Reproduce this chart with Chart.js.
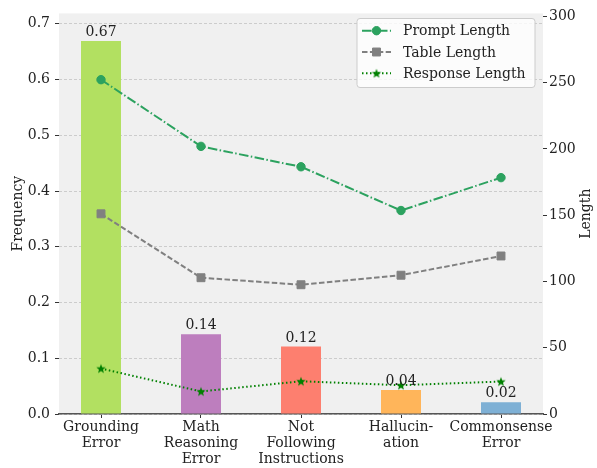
<!DOCTYPE html>
<html lang="en">
<head>
<meta charset="UTF-8">
<title>Error types - frequency and length</title>
<style>
    body { margin: 0; background: #fff; }
    #wrap { width: 597px; height: 468px; }
</style>
</head>
<body>
<div id="wrap"><canvas id="chart" width="597" height="468"></canvas></div>

<script src="https://cdn.jsdelivr.net/npm/chart.js"></script>
<script>
    // categories (multi-line labels as in the figure)
    const categories = [
        ['Grounding', 'Error'],
        ['Math', 'Reasoning', 'Error'],
        ['Not', 'Following', 'Instructions'],
        ['Hallucin-', 'ation'],
        ['Commonsense', 'Error']
    ];

    // bars: frequency (left axis)
    const frequency = [0.669, 0.143, 0.121, 0.043, 0.021];
    const barColors = ['#b2e061', '#bd7ebe', '#fd7f6f', '#ffb55a', '#7eb0d5'];

    // lines: lengths (right axis)
    const promptLength = [252.2, 201.9, 186.5, 153.5, 178.3];
    const tableLength = [151.0, 102.8, 97.5, 104.7, 119.2];
    const responseLength = [34.3, 17.0, 24.7, 21.7, 24.5];

    // axis limits / ticks
    const freqTicks = [0, 0.1, 0.2, 0.3, 0.4, 0.5, 0.6, 0.7];
    const lengthTicks = [0, 50, 100, 150, 200, 250, 300];
    const freqMax = 0.7187;
    const lengthMax = 302.2;
    const xMin = -0.42, xMax = 4.42;

    const FONT = "'DejaVu Serif', serif";
    Chart.defaults.font.family = FONT;
    Chart.defaults.font.size = 14;
    Chart.defaults.color = '#222';

    const toPoints = arr => arr.map((v, i) => ({ x: i, y: v }));

    // matplotlib-like filled star marker
    function makeStar(color) {
        const c = document.createElement('canvas');
        c.width = 12; c.height = 12;
        const g = c.getContext('2d');
        g.fillStyle = color;
        g.beginPath();
        for (let k = 0; k < 10; k++) {
            const r = k % 2 === 0 ? 5 : 2.1;
            const a = -Math.PI / 2 + k * Math.PI / 5;
            const px = 6 + r * Math.cos(a), py = 6.4 + r * Math.sin(a);
            k === 0 ? g.moveTo(px, py) : g.lineTo(px, py);
        }
        g.closePath();
        g.fill();
        return c;
    }
    const starMarker = makeStar('#008000');

    // grey plot background
    const plotBg = {
        id: 'plotBg',
        beforeDraw(chart) {
            const { ctx, chartArea: a } = chart;
            ctx.save();
            ctx.fillStyle = '#ffffff';
            ctx.fillRect(0, 0, chart.width, chart.height);
            ctx.fillStyle = '#f0f0f0';
            ctx.fillRect(a.left, a.top, a.right - a.left, a.bottom - a.top);
            ctx.restore();
        }
    };

    // value labels over the bars
    const barLabels = {
        id: 'barLabels',
        afterDatasetsDraw(chart) {
            const { ctx } = chart;
            const meta = chart.getDatasetMeta(0);
            ctx.save();
            ctx.font = '14px ' + FONT;
            ctx.fillStyle = '#222';
            ctx.textAlign = 'center';
            ctx.textBaseline = 'alphabetic';
            meta.data.forEach((bar, i) => {
                ctx.fillText(frequency[i].toFixed(2), bar.x, bar.y - 5);
            });
            ctx.restore();
        }
    };

    // legend box (line + marker) and the right axis title
    const lineLegend = {
        id: 'lineLegend',
        afterDraw(chart) {
            const { ctx } = chart;
            const a = chart.chartArea;
            ctx.save();

            // right axis title, reading bottom to top
            ctx.font = '14px ' + FONT;
            ctx.fillStyle = '#222';
            ctx.textAlign = 'center';
            ctx.textBaseline = 'middle';
            ctx.translate(586, (a.top + a.bottom) / 2);
            ctx.rotate(-Math.PI / 2);
            ctx.fillText('Length', 0, 0);
            ctx.setTransform(1, 0, 0, 1, 0, 0);

            const bx = 357, by = 18.5, bw = 178, bh = 69;
            ctx.fillStyle = 'rgba(255,255,255,0.8)';
            ctx.strokeStyle = '#cccccc';
            ctx.lineWidth = 1;
            ctx.beginPath();
            ctx.roundRect(bx, by, bw, bh, 3);
            ctx.fill();
            ctx.stroke();

            const lines = chart.data.datasets.filter(d => d.type === 'line');
            lines.forEach((ds, i) => {
                const y = 30.7 + i * 21.3;
                ctx.strokeStyle = ds.borderColor;
                ctx.lineWidth = ds.borderWidth;
                ctx.setLineDash(ds.borderDash || []);
                ctx.beginPath();
                ctx.moveTo(362, y);
                ctx.lineTo(391, y);
                ctx.stroke();
                ctx.setLineDash([]);
                ctx.fillStyle = ds.pointBackgroundColor;
                ctx.strokeStyle = ds.pointBorderColor;
                ctx.lineWidth = ds.pointBorderWidth;
                Chart.helpers.drawPoint(ctx, {
                    pointStyle: ds.pointStyle,
                    radius: ds.pointRadius,
                    rotation: 0,
                    borderWidth: ds.pointBorderWidth
                }, 376.5, y);
                ctx.fillStyle = '#222';
                ctx.textAlign = 'left';
                ctx.textBaseline = 'middle';
                ctx.fillText(ds.label, 403, y + 1);
            });
            ctx.restore();
        }
    };

    new Chart(document.getElementById('chart').getContext('2d'), {
        type: 'bar',
        data: {
            datasets: [
                {
                    type: 'bar',
                    label: 'Frequency',
                    data: toPoints(frequency),
                    backgroundColor: barColors,
                    borderWidth: 0,
                    barPercentage: 0.4,
                    categoryPercentage: 1,
                    yAxisID: 'y',
                    order: 4
                },
                {
                    type: 'line',
                    label: 'Prompt Length',
                    data: toPoints(promptLength),
                    borderColor: '#2ca25f',
                    borderWidth: 2,
                    borderDash: [9.6, 2.4, 1.5, 2.4],
                    pointStyle: 'circle',
                    pointRadius: 4.2,
                    pointBackgroundColor: '#2ca25f',
                    pointBorderColor: '#2ca25f',
                    pointBorderWidth: 1,
                    tension: 0,
                    yAxisID: 'y1',
                    order: 1
                },
                {
                    type: 'line',
                    label: 'Table Length',
                    data: toPoints(tableLength),
                    borderColor: '#808080',
                    borderWidth: 2,
                    borderDash: [5.5, 2.4],
                    pointStyle: 'rect',
                    pointRadius: 5.6,
                    pointBackgroundColor: '#808080',
                    pointBorderColor: '#808080',
                    pointBorderWidth: 1,
                    tension: 0,
                    yAxisID: 'y1',
                    order: 2
                },
                {
                    type: 'line',
                    label: 'Response Length',
                    data: toPoints(responseLength),
                    borderColor: '#008000',
                    borderWidth: 2,
                    borderDash: [1.5, 2.5],
                    pointStyle: starMarker,
                    pointRadius: 5,
                    pointBackgroundColor: '#008000',
                    pointBorderColor: '#008000',
                    pointBorderWidth: 0,
                    tension: 0,
                    yAxisID: 'y1',
                    order: 3
                }
            ]
        },
        options: {
            responsive: false,
            animation: false,
            layout: { padding: { top: 11, right: 0, bottom: 0, left: 0 } },
            plugins: {
                legend: { display: false },
                tooltip: { enabled: false }
            },
            scales: {
                x: {
                    type: 'linear',
                    min: xMin,
                    max: xMax,
                    offset: false,
                    afterBuildTicks: s => { s.ticks = categories.map((c, i) => ({ value: i })); },
                    afterFit: s => { s.height = 54; },
                    grid: { offset: false, drawOnChartArea: false, drawTicks: true, tickLength: 4, tickColor: '#333' },
                    border: { display: true, color: '#555', width: 1.5 },
                    ticks: {
                        callback: v => categories[v],
                        maxRotation: 0,
                        autoSkip: false,
                        padding: 1,
                        font: { size: 14, lineHeight: 1.15 }
                    }
                },
                y: {
                    position: 'left',
                    min: 0,
                    max: freqMax,
                    afterFit: s => { s.width = 59; },
                    afterBuildTicks: s => { s.ticks = freqTicks.map(v => ({ value: v })); },
                    ticks: {
                        padding: 5,
                        callback: v => v.toFixed(1)
                    },
                    grid: { color: '#cccccc', lineWidth: 1, tickLength: 4, tickColor: '#333', tickBorderDash: [] },
                    border: { display: false, dash: [3, 2] },
                    title: { display: true, text: 'Frequency', padding: { top: 10, bottom: 0 } }
                },
                y1: {
                    position: 'right',
                    min: 0,
                    max: lengthMax,
                    afterFit: s => { s.width = 54; },
                    afterBuildTicks: s => { s.ticks = lengthTicks.map(v => ({ value: v })); },
                    ticks: { padding: 2, callback: v => String(v) },
                    grid: { drawOnChartArea: false, tickLength: 4, tickColor: '#333' },
                    border: { display: false }
                }
            }
        },
        plugins: [plotBg, barLabels, lineLegend]
    });
</script>
</body>
</html>
